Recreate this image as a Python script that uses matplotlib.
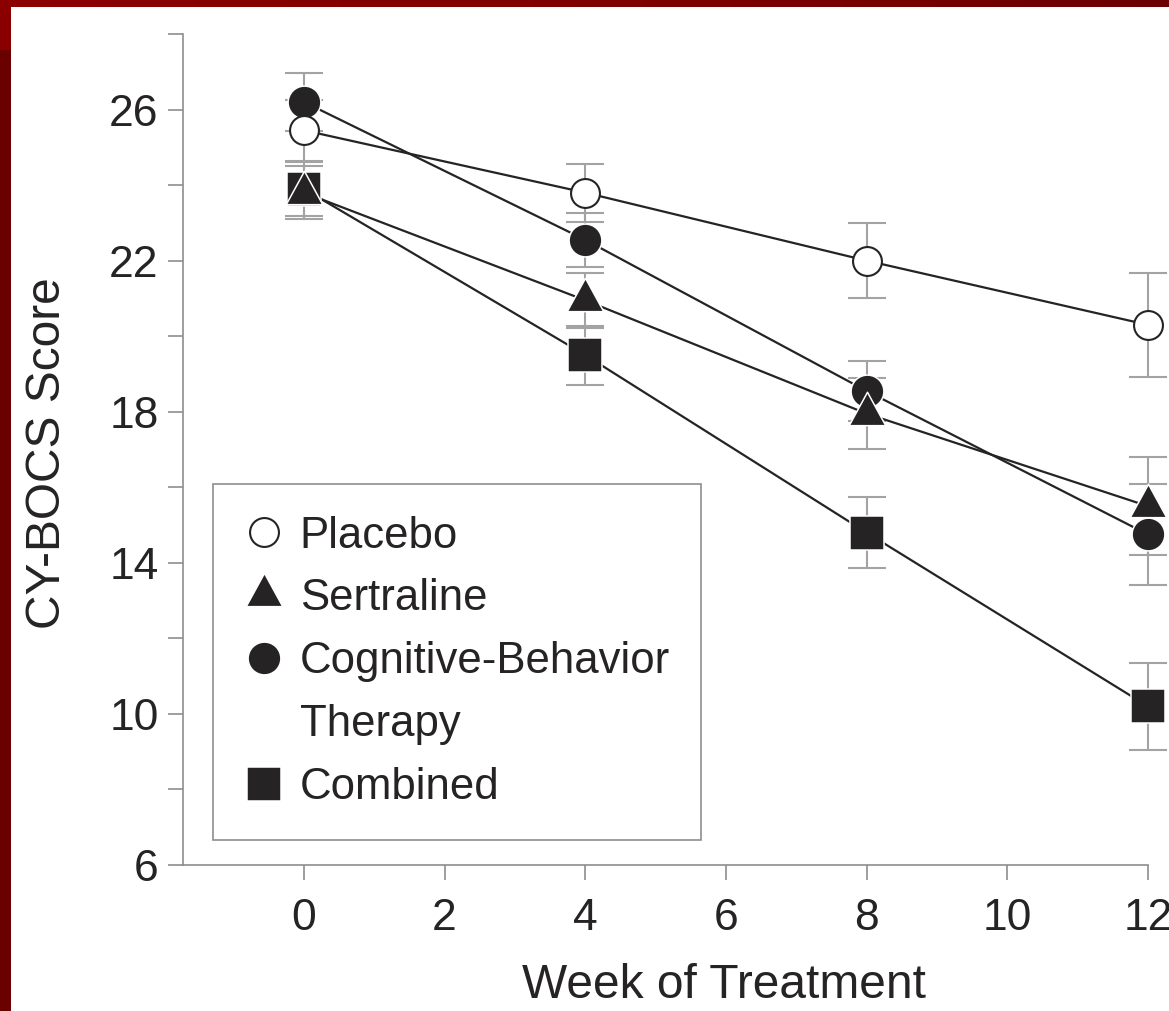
import matplotlib
matplotlib.use('Agg')
import matplotlib.pyplot as plt
from matplotlib.path import Path
from matplotlib.lines import Line2D
from matplotlib.patches import Rectangle
from matplotlib.colors import LinearSegmentedColormap
import numpy as np

plt.rcParams['font.family'] = ['Liberation Sans', 'DejaVu Sans']

# ---------------- data ----------------
weeks = [0, 4, 8, 12]
placebo = [25.45, 23.8, 22.0, 20.3]
placebo_err = [0.8, 0.77, 1.0, 1.38]
sertraline = [23.8, 20.95, 17.95, 15.5]
sertraline_err = [0.7, 0.73, 0.95, 1.3]
cbt = [26.2, 22.55, 18.55, 14.75]
cbt_err = [0.76, 0.72, 0.8, 1.33]
combined = [23.9, 19.5, 14.8, 10.2]
combined_err = [0.72, 0.78, 0.95, 1.15]
series_labels = ["Placebo", "Sertraline", "Cognitive-Behavior", "Therapy", "Combined"]
x_ticks = [0, 2, 4, 6, 8, 10, 12]
y_major = [6, 10, 14, 18, 22, 26]
y_minor = [8, 12, 16, 20, 24, 28]

INK = '#262324'
GRAY = '#8e8e8e'
EGRAY = '#a3a3a3'

W, H = 1169, 1011
fig = plt.figure(figsize=(W / 100, H / 100), dpi=100)
fig.patch.set_facecolor('white')


def fx(px):
    return px / W


def fy(py):
    return 1 - py / H


# red frame of the slide
bg = fig.add_axes([0, 0, 1, 1], zorder=-10)
bg.set_axis_off()
bg.add_patch(Rectangle((0, 0), 11, H, color='#6b0000', lw=0))
bg.add_patch(Rectangle((0, 0), 11, 50, color='#8a0000', lw=0))
grad = np.linspace(0, 1, 256)[None, :]
cm = LinearSegmentedColormap.from_list('r', ['#8c0000', '#800000', '#6c0000'])
bg.imshow(grad, extent=(0, W, 7, 0), cmap=cm, aspect='auto')
bg.set_xlim(0, W)
bg.set_ylim(H, 0)

ax = fig.add_axes([fx(183), fy(865), fx(1169) - fx(183), fy(34) - fy(865)])
ax.set_xlim(-1.72, 12.30)
ax.set_ylim(6, 28)
ax.patch.set_alpha(0)

# triangle with centroid at the data point
tri = Path([(0, 21.3), (-17.5, -10.7), (17.5, -10.7), (0, 21.3)],
           [Path.MOVETO, Path.LINETO, Path.LINETO, Path.CLOSEPOLY])

styles = {
    'combined': dict(marker='s', ms=24, mfc=INK, mec='white', mew=1.1),
    'cbt': dict(marker='o', ms=23.6, mfc=INK, mec='white', mew=1.1),
    'sertraline': dict(marker=tri, ms=32, mfc=INK, mec='white', mew=1.1),
    'placebo': dict(marker='o', ms=20.8, mfc='white', mec=INK, mew=1.5),
}

order = [('combined', combined, combined_err), ('cbt', cbt, cbt_err),
         ('sertraline', sertraline, sertraline_err), ('placebo', placebo, placebo_err)]

for name, vals, errs in order:
    cont = ax.errorbar(weeks, vals, yerr=errs, fmt='none', ecolor=EGRAY,
                       elinewidth=1.5, capsize=14, capthick=1.5, zorder=2)
    for a in cont.get_children():
        a.set_clip_on(False)
    ax.plot(weeks, vals, color=INK, lw=1.6, zorder=3, clip_on=False,
            solid_capstyle='butt')
for i, (name, vals, errs) in enumerate(order):
    ax.plot(weeks, vals, linestyle='none', zorder=4 + i, clip_on=False,
            **styles[name])

# axes styling
for s in ['top', 'right']:
    ax.spines[s].set_visible(False)
for s in ['left', 'bottom']:
    ax.spines[s].set_color(GRAY)
    ax.spines[s].set_linewidth(1.2)
ax.spines['bottom'].set_bounds(-1.72, 12)
ax.spines['left'].set_bounds(6, 28)

ax.set_xticks(x_ticks)
ax.set_yticks(y_major)
ax.set_yticks(y_minor, minor=True)
ax.tick_params(which='both', direction='out', length=11, width=1.2,
               color=GRAY, labelsize=32, labelcolor=INK)
ax.tick_params(axis='y', which='both', pad=6.5)
ax.tick_params(axis='x', which='both', pad=12.5)
ax.tick_params(axis='y', which='minor', labelleft=False)

ax.set_xlabel('Week of Treatment', fontsize=34.5, color=INK)
ax.set_ylabel('CY-BOCS Score', fontsize=34.5, color=INK)
ax.xaxis.set_label_coords((724 - 183) / 986, (865 - 963) / 831)
ax.yaxis.set_label_coords((70 - 183) / 986, (865 - 453) / 831)

# legend
handles = [
    Line2D([], [], linestyle='none', **styles['placebo']),
    Line2D([], [], linestyle='none', **styles['sertraline']),
    Line2D([], [], linestyle='none', **styles['cbt']),
    Line2D([], [], linestyle='none', marker='None'),
    Line2D([], [], linestyle='none', **styles['combined']),
]
leg = ax.legend(handles, series_labels, loc='upper left',
                bbox_to_anchor=(fx(213), fy(484)), bbox_transform=fig.transFigure,
                frameon=True, fancybox=False, edgecolor=GRAY, framealpha=1,
                borderpad=0.72, labelspacing=0.5, handlelength=0.9,
                handletextpad=0.36, borderaxespad=0, fontsize=31.5)
leg.get_frame().set_linewidth(1.2)
for t in leg.get_texts():
    t.set_color(INK)

fig.savefig('out.png', dpi=100, facecolor='white')
